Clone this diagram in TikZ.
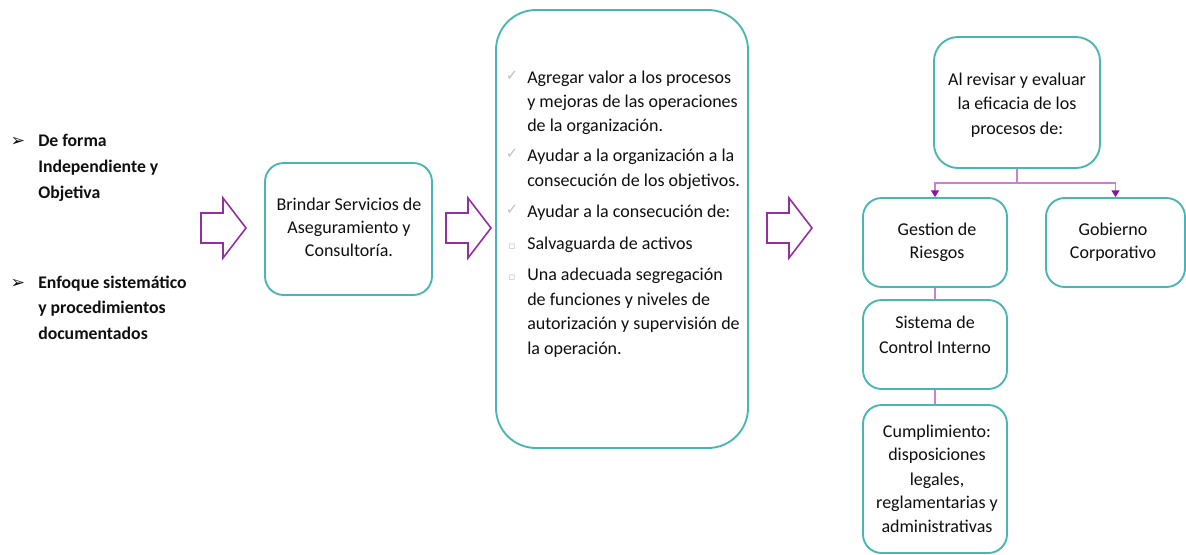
\documentclass[tikz,border=0pt]{standalone}
\usepackage{fontspec}
\setmainfont{Carlito}
\newfontfamily\symfont{DejaVu Sans}
\usetikzlibrary{arrows.meta}
\definecolor{tealb}{RGB}{72,182,178}
\definecolor{purp}{RGB}{146,48,160}
\definecolor{pinkl}{RGB}{206,128,206}
\definecolor{purpd}{RGB}{140,20,160}
\definecolor{txtc}{RGB}{15,15,15}
\definecolor{bulg}{RGB}{190,190,190}
\begin{document}
\begin{tikzpicture}[x=0.75pt,y=-0.75pt,
  box/.style={draw=tealb,line width=1.4pt,fill=white,rounded corners=14pt,inner sep=0pt},
  t/.style={font=\fontsize{13.5}{18}\selectfont,text=txtc,inner sep=0pt},
  tb/.style={font=\fontsize{13.3}{18}\selectfont\bfseries,text=txtc,inner sep=0pt},
  ln/.style={t,anchor=mid west},
  lc/.style={t,anchor=mid},
  bl/.style={font=\symfont\fontsize{11}{11}\selectfont,text=bulg,inner sep=0pt,anchor=mid},
  sq/.style={font=\symfont\fontsize{8}{8}\selectfont,text=bulg,inner sep=0pt,anchor=mid},
  arw/.style={font=\symfont\fontsize{13}{13}\selectfont,text=txtc,inner sep=0pt,anchor=mid},
  conn/.style={draw=pinkl,line width=0.9pt},
  tip/.style={-{Triangle[length=5pt,width=6pt,color=purpd,fill=purpd]}},
  barrow/.pic={\draw[draw=purp,line width=1.2pt,fill=white,line join=miter]
     (0,-15) -- (22,-15) -- (22,-30) -- (45,0) -- (22,30) -- (22,15) -- (0,15) -- cycle;}
]
\useasboundingbox (0,0) rectangle (1186,554);

% left bullets
\node[arw] (ba) at (18,143) {➢};
\node[tb,anchor=mid west] (la1) at (38,143) {De forma};
\node[tb,anchor=mid west] (la2) at (38,169) {Independiente y};
\node[tb,anchor=mid west] (la3) at (38,195) {Objetiva};
\node[arw] (bb) at (18,285) {➢};
\node[tb,anchor=mid west] (lb1) at (38,285) {Enfoque sistemático};
\node[tb,anchor=mid west] (lb2) at (38,310) {y procedimientos};
\node[tb,anchor=mid west] (lb3) at (38,336) {documentados};

% block arrows
\pic at (201,228) {barrow};
\pic at (446,228) {barrow};
\pic at (767,228) {barrow};

% box 1
\node[box,minimum width=125.25pt,minimum height=99pt] (b1) at (348.5,229) {};
\node[lc] (b1a) at (349,207) {Brindar Servicios de};
\node[lc] (b1b) at (349,230) {Aseguramiento y};
\node[lc] (b1c) at (349,253) {Consultoría.};

% big box
\node[box,rounded corners=30pt,minimum width=189pt,minimum height=328.5pt] (b2) at (622,229) {};
\node[bl] (c1) at (512,77) {✓};
\node[ln] (p1a) at (527,80) {Agregar valor a los procesos};
\node[ln] (p1b) at (527,104) {y mejoras de las operaciones};
\node[ln] (p1c) at (527,128) {de la organización.};
\node[bl] (c2) at (512,155) {✓};
\node[ln] (p2a) at (527,158) {Ayudar a la organización a la};
\node[ln] (p2b) at (527,183) {consecución de los objetivos.};
\node[bl] (c3) at (512,211) {✓};
\node[ln] (p3a) at (527,214) {Ayudar a la consecución de:};
\node[sq] (c4) at (512,246) {▫};
\node[ln] (p4a) at (527,246) {Salvaguarda de activos};
\node[sq] (c5) at (512,277) {▫};
\node[ln] (p5a) at (527,277) {Una adecuada segregación};
\node[ln] (p5b) at (527,302) {de funciones y niveles de};
\node[ln] (p5c) at (527,326) {autorización y supervisión de};
\node[ln] (p5d) at (527,351) {la operación.};

% right tree
\node[box,rounded corners=18pt,minimum width=124.5pt,minimum height=98.25pt] (tp) at (1017,102.5) {};
\node[lc] (tpa) at (1017,82) {Al revisar y evaluar};
\node[lc] (tpb) at (1017,106) {la eficacia de los};
\node[lc] (tpc) at (1017,131) {procesos de:};

\node[box,minimum width=108pt,minimum height=66.75pt] (g1) at (935,242.5) {};
\node[lc] (g1a) at (937,232) {Gestion de};
\node[lc] (g1b) at (937,255) {Riesgos};

\node[box,minimum width=104.25pt,minimum height=66.75pt] (g2) at (1115.5,242.5) {};
\node[lc] (g2a) at (1113,232) {Gobierno};
\node[lc] (g2b) at (1113,255) {Corporativo};

\node[box,minimum width=108pt,minimum height=66.75pt] (s1) at (935,344.5) {};
\node[lc] (s1a) at (935,325) {Sistema de};
\node[lc] (s1b) at (935,350) {Control Interno};

\node[box,minimum width=108pt,minimum height=111pt] (cu) at (935,479) {};
\node[lc] (cua) at (937,434) {Cumplimiento:};
\node[lc] (cub) at (937,457) {disposiciones};
\node[lc] (cuc) at (937,482) {legales,};
\node[lc] (cud) at (937,505) {reglamentarias y};
\node[lc] (cue) at (937,529) {administrativas};

\coordinate (j) at (1017,183);
\draw[conn] (tp.south) -- (j);
\draw[conn,tip] (j) -| (g1.north);
\draw[conn,tip] (j) -| (g2.north);
\draw[conn] (g1.south) -- (s1.north);
\draw[conn] (s1.south) -- (cu.north);
\end{tikzpicture}
\end{document}
